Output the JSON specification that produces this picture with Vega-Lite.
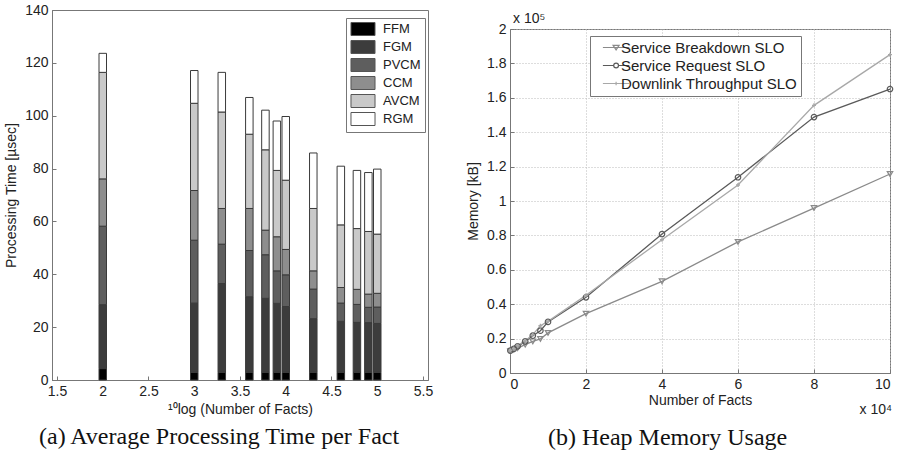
{
  "$schema": "https://vega.github.io/schema/vega-lite/v6.json",
  "background": "white",
  "padding": {"left": 4, "top": 2, "right": 6, "bottom": 0},
  "config": {
    "font": "Liberation Sans",
    "view": {"stroke": "#777", "strokeWidth": 1},
    "axis": {
      "labelFont": "Liberation Sans", "labelFontSize": 14, "labelColor": "#222",
      "titleFont": "Liberation Sans", "titleFontSize": 14, "titleFontWeight": "normal", "titleColor": "#222",
      "domainColor": "#777", "tickColor": "#777", "tickSize": -4, "labelPadding": 8, "grid": false, "labelOverlap": false
    },
    "title": {"font": "Liberation Serif", "fontSize": 24, "fontWeight": "normal", "color": "#111", "orient": "bottom", "anchor": "start", "frame": "group", "offset": 9}
  },
  "datasets": {
    "times": [
      {"logFacts": 2, "module": "FFM", "rank": 1, "time": 4.3},
      {"logFacts": 2, "module": "FGM", "rank": 2, "time": 24.2},
      {"logFacts": 2, "module": "PVCM", "rank": 3, "time": 29.7},
      {"logFacts": 2, "module": "CCM", "rank": 4, "time": 17.9},
      {"logFacts": 2, "module": "AVCM", "rank": 5, "time": 40.3},
      {"logFacts": 2, "module": "RGM", "rank": 6, "time": 7.2},
      {"logFacts": 3, "module": "FFM", "rank": 1, "time": 2.9},
      {"logFacts": 3, "module": "FGM", "rank": 2, "time": 26.2},
      {"logFacts": 3, "module": "PVCM", "rank": 3, "time": 23.8},
      {"logFacts": 3, "module": "CCM", "rank": 4, "time": 18.8},
      {"logFacts": 3, "module": "AVCM", "rank": 5, "time": 33.0},
      {"logFacts": 3, "module": "RGM", "rank": 6, "time": 12.4},
      {"logFacts": 3.301, "module": "FFM", "rank": 1, "time": 2.9},
      {"logFacts": 3.301, "module": "FGM", "rank": 2, "time": 33.6},
      {"logFacts": 3.301, "module": "PVCM", "rank": 3, "time": 14.9},
      {"logFacts": 3.301, "module": "CCM", "rank": 4, "time": 13.5},
      {"logFacts": 3.301, "module": "AVCM", "rank": 5, "time": 36.5},
      {"logFacts": 3.301, "module": "RGM", "rank": 6, "time": 15.0},
      {"logFacts": 3.602, "module": "FFM", "rank": 1, "time": 2.9},
      {"logFacts": 3.602, "module": "FGM", "rank": 2, "time": 28.6},
      {"logFacts": 3.602, "module": "PVCM", "rank": 3, "time": 17.5},
      {"logFacts": 3.602, "module": "CCM", "rank": 4, "time": 15.9},
      {"logFacts": 3.602, "module": "AVCM", "rank": 5, "time": 28.1},
      {"logFacts": 3.602, "module": "RGM", "rank": 6, "time": 13.9},
      {"logFacts": 3.778, "module": "FFM", "rank": 1, "time": 2.9},
      {"logFacts": 3.778, "module": "FGM", "rank": 2, "time": 28.0},
      {"logFacts": 3.778, "module": "PVCM", "rank": 3, "time": 16.5},
      {"logFacts": 3.778, "module": "CCM", "rank": 4, "time": 9.3},
      {"logFacts": 3.778, "module": "AVCM", "rank": 5, "time": 30.4},
      {"logFacts": 3.778, "module": "RGM", "rank": 6, "time": 15.0},
      {"logFacts": 3.903, "module": "FFM", "rank": 1, "time": 2.9},
      {"logFacts": 3.903, "module": "FGM", "rank": 2, "time": 26.1},
      {"logFacts": 3.903, "module": "PVCM", "rank": 3, "time": 12.3},
      {"logFacts": 3.903, "module": "CCM", "rank": 4, "time": 12.9},
      {"logFacts": 3.903, "module": "AVCM", "rank": 5, "time": 25.1},
      {"logFacts": 3.903, "module": "RGM", "rank": 6, "time": 18.7},
      {"logFacts": 4, "module": "FFM", "rank": 1, "time": 2.9},
      {"logFacts": 4, "module": "FGM", "rank": 2, "time": 24.9},
      {"logFacts": 4, "module": "PVCM", "rank": 3, "time": 12.0},
      {"logFacts": 4, "module": "CCM", "rank": 4, "time": 9.6},
      {"logFacts": 4, "module": "AVCM", "rank": 5, "time": 26.2},
      {"logFacts": 4, "module": "RGM", "rank": 6, "time": 24.1},
      {"logFacts": 4.301, "module": "FFM", "rank": 1, "time": 2.9},
      {"logFacts": 4.301, "module": "FGM", "rank": 2, "time": 20.3},
      {"logFacts": 4.301, "module": "PVCM", "rank": 3, "time": 11.2},
      {"logFacts": 4.301, "module": "CCM", "rank": 4, "time": 6.9},
      {"logFacts": 4.301, "module": "AVCM", "rank": 5, "time": 23.6},
      {"logFacts": 4.301, "module": "RGM", "rank": 6, "time": 21.0},
      {"logFacts": 4.602, "module": "FFM", "rank": 1, "time": 2.9},
      {"logFacts": 4.602, "module": "FGM", "rank": 2, "time": 19.3},
      {"logFacts": 4.602, "module": "PVCM", "rank": 3, "time": 6.9},
      {"logFacts": 4.602, "module": "CCM", "rank": 4, "time": 5.9},
      {"logFacts": 4.602, "module": "AVCM", "rank": 5, "time": 23.7},
      {"logFacts": 4.602, "module": "RGM", "rank": 6, "time": 22.2},
      {"logFacts": 4.778, "module": "FFM", "rank": 1, "time": 2.9},
      {"logFacts": 4.778, "module": "FGM", "rank": 2, "time": 18.9},
      {"logFacts": 4.778, "module": "PVCM", "rank": 3, "time": 6.8},
      {"logFacts": 4.778, "module": "CCM", "rank": 4, "time": 5.7},
      {"logFacts": 4.778, "module": "AVCM", "rank": 5, "time": 23.0},
      {"logFacts": 4.778, "module": "RGM", "rank": 6, "time": 22.0},
      {"logFacts": 4.903, "module": "FFM", "rank": 1, "time": 2.9},
      {"logFacts": 4.903, "module": "FGM", "rank": 2, "time": 18.8},
      {"logFacts": 4.903, "module": "PVCM", "rank": 3, "time": 5.8},
      {"logFacts": 4.903, "module": "CCM", "rank": 4, "time": 5.0},
      {"logFacts": 4.903, "module": "AVCM", "rank": 5, "time": 23.7},
      {"logFacts": 4.903, "module": "RGM", "rank": 6, "time": 22.3},
      {"logFacts": 5, "module": "FFM", "rank": 1, "time": 2.9},
      {"logFacts": 5, "module": "FGM", "rank": 2, "time": 18.5},
      {"logFacts": 5, "module": "PVCM", "rank": 3, "time": 6.2},
      {"logFacts": 5, "module": "CCM", "rank": 4, "time": 5.2},
      {"logFacts": 5, "module": "AVCM", "rank": 5, "time": 22.4},
      {"logFacts": 5, "module": "RGM", "rank": 6, "time": 24.6}
    ],
    "memory": [
      {"slo": "Service Breakdown SLO", "facts": 100, "memory": 12600},
      {"slo": "Service Breakdown SLO", "facts": 1000, "memory": 13600},
      {"slo": "Service Breakdown SLO", "facts": 2000, "memory": 14500},
      {"slo": "Service Breakdown SLO", "facts": 4000, "memory": 16500},
      {"slo": "Service Breakdown SLO", "facts": 6000, "memory": 18400},
      {"slo": "Service Breakdown SLO", "facts": 8000, "memory": 19800},
      {"slo": "Service Breakdown SLO", "facts": 10000, "memory": 23300},
      {"slo": "Service Breakdown SLO", "facts": 20000, "memory": 34500},
      {"slo": "Service Breakdown SLO", "facts": 40000, "memory": 53300},
      {"slo": "Service Breakdown SLO", "facts": 60000, "memory": 76200},
      {"slo": "Service Breakdown SLO", "facts": 80000, "memory": 95900},
      {"slo": "Service Breakdown SLO", "facts": 100000, "memory": 115700},
      {"slo": "Service Request SLO", "facts": 100, "memory": 13000},
      {"slo": "Service Request SLO", "facts": 1000, "memory": 14000},
      {"slo": "Service Request SLO", "facts": 2000, "memory": 15500},
      {"slo": "Service Request SLO", "facts": 4000, "memory": 18400},
      {"slo": "Service Request SLO", "facts": 6000, "memory": 21700},
      {"slo": "Service Request SLO", "facts": 8000, "memory": 24600},
      {"slo": "Service Request SLO", "facts": 10000, "memory": 29700},
      {"slo": "Service Request SLO", "facts": 20000, "memory": 44000},
      {"slo": "Service Request SLO", "facts": 40000, "memory": 80800},
      {"slo": "Service Request SLO", "facts": 60000, "memory": 113800},
      {"slo": "Service Request SLO", "facts": 80000, "memory": 148800},
      {"slo": "Service Request SLO", "facts": 100000, "memory": 165100},
      {"slo": "Downlink Throughput SLO", "facts": 100, "memory": 13200},
      {"slo": "Downlink Throughput SLO", "facts": 1000, "memory": 14100},
      {"slo": "Downlink Throughput SLO", "facts": 2000, "memory": 15900},
      {"slo": "Downlink Throughput SLO", "facts": 4000, "memory": 18800},
      {"slo": "Downlink Throughput SLO", "facts": 6000, "memory": 22300},
      {"slo": "Downlink Throughput SLO", "facts": 8000, "memory": 27500},
      {"slo": "Downlink Throughput SLO", "facts": 10000, "memory": 30000},
      {"slo": "Downlink Throughput SLO", "facts": 20000, "memory": 45200},
      {"slo": "Downlink Throughput SLO", "facts": 40000, "memory": 77500},
      {"slo": "Downlink Throughput SLO", "facts": 60000, "memory": 109300},
      {"slo": "Downlink Throughput SLO", "facts": 80000, "memory": 155600},
      {"slo": "Downlink Throughput SLO", "facts": 100000, "memory": 185100}
    ],
    "notes": [
      {"which": "y", "facts": 0, "memory": 200000, "label": "x 10⁵"},
      {"which": "x", "facts": 100000, "memory": 0, "label": "x 10⁴"}
    ]
  },
  "resolve": {"scale": {"color": "independent"}, "legend": {"color": "independent"}},
  "spacing": 32,
  "hconcat": [
    {
      "width": 376,
      "height": 370,
      "title": {"text": "(a) Average Processing Time per Fact", "dx": -13},
      "data": {"name": "times"},
      "mark": {"type": "bar", "size": 7.5, "stroke": "#3a3a3a", "strokeWidth": 1},
      "encoding": {
        "x": {"field": "logFacts", "type": "quantitative",
              "scale": {"domain": [1.5, 5.5], "nice": false, "zero": false},
              "axis": {"values": [1.5, 2, 2.5, 3, 3.5, 4, 4.5, 5, 5.5], "format": "~g", "title": "¹⁰log (Number of Facts)", "titlePadding": 4}},
        "y": {"field": "time", "type": "quantitative", "stack": "zero",
              "scale": {"domain": [0, 140], "nice": false},
              "axis": {"values": [0, 20, 40, 60, 80, 100, 120, 140], "title": "Processing Time [µsec]", "titlePadding": 6}},
        "color": {"field": "module", "type": "nominal",
                  "scale": {"domain": ["FFM", "FGM", "PVCM", "CCM", "AVCM", "RGM"],
                            "range": ["#000000", "#3c3c3c", "#5e5e5e", "#8e8e8e", "#c9c9c9", "#ffffff"]},
                  "legend": {"title": null, "orient": "none", "legendX": 294, "legendY": 8,
                             "symbolType": "M-1.85,-1L1.85,-1L1.85,1L-1.85,1Z", "symbolSize": 169,
                             "symbolStrokeColor": "#555", "symbolStrokeWidth": 1, "labelOffset": 13, "symbolOffset": 6,
                             "labelFontSize": 13, "labelColor": "#222", "rowPadding": 0,
                             "strokeColor": "#777", "fillColor": "white", "padding": 4}},
        "order": {"field": "rank", "type": "quantitative"}
      }
    },
    {
      "spacing": 0,
      "vconcat": [
        {
          "width": 380,
          "height": 1,
          "data": {"values": []},
          "mark": {"type": "point"},
          "view": {"stroke": null}
        },
        {
          "width": 380,
          "height": 344,
          "title": {"text": "(b) Heap Memory Usage", "dx": 38, "offset": 9},
          "encoding": {
            "x": {"field": "facts", "type": "quantitative",
                  "scale": {"domain": [0, 100000], "nice": false},
                  "axis": {"values": [0, 20000, 40000, 60000, 80000, 100000], "labelExpr": "format(datum.value/10000, '~g')",
                           "title": "Number of Facts", "titlePadding": 2, "grid": true, "gridDash": [1, 2], "gridColor": "#bbb"}},
            "y": {"field": "memory", "type": "quantitative",
                  "scale": {"domain": [0, 200000], "nice": false},
                  "axis": {"values": [0, 20000, 40000, 60000, 80000, 100000, 120000, 140000, 160000, 180000, 200000],
                           "labelExpr": "format(datum.value/100000, '.1~f')",
                           "title": "Memory [kB]", "titlePadding": 6, "grid": true, "gridDash": [1, 2], "gridColor": "#bbb"}},
            "color": {"field": "slo", "type": "nominal",
                      "scale": {"domain": ["Service Breakdown SLO", "Service Request SLO", "Downlink Throughput SLO"],
                                "range": ["#8a8a8a", "#5a5a5a", "#a8a8a8"]},
                      "legend": {"title": null, "orient": "none", "legendX": 80, "legendY": 26,
                                 "labelFontSize": 15, "labelColor": "#222", "rowPadding": 2, "labelLimit": 0,
                                 "symbolSize": 144, "symbolStrokeWidth": 1.2, "labelOffset": 4, "symbolOffset": 8,
                                 "strokeColor": "#777", "fillColor": "white", "padding": 4,
                                 "encode": {
                                   "symbols": {
                                     "update": {
                                       "shape": {"signal": "datum.value == 'Service Breakdown SLO' ? 'M-1.1,0L3.3,0M0.6,-0.35L1.6,-0.35L1.1,0.4Z' : datum.value == 'Service Request SLO' ? 'M-1.1,0L0.7,0M1.5,0L3.3,0M1.5,0A0.4,0.4 0 1,1 0.7,0A0.4,0.4 0 1,1 1.5,0' : 'M-1.1,0L3.3,0M1.1,-0.3L1.1,0.3'"},
                                       "fill": {"value": "transparent"}
                                     }
                                   }
                                 }
                      }
            }
          },
          "layer": [
            {
              "data": {"name": "memory"},
              "mark": {"type": "line", "strokeWidth": 1.3},
              "encoding": {}
            },
            {
              "data": {"name": "memory"},
              "transform": [{"filter": "datum.slo == 'Service Breakdown SLO'"}],
              "mark": {"type": "point", "shape": "triangle-down", "filled": false, "size": 30, "strokeWidth": 1.2, "opacity": 1},
              "encoding": {}
            },
            {
              "data": {"name": "memory"},
              "transform": [{"filter": "datum.slo == 'Service Request SLO'"}],
              "mark": {"type": "point", "shape": "circle", "filled": false, "size": 30, "strokeWidth": 1.2, "opacity": 1},
              "encoding": {}
            },
            {
              "data": {"name": "memory"},
              "transform": [{"filter": "datum.slo == 'Downlink Throughput SLO'"}],
              "mark": {"type": "point", "shape": "M-1,0L1,0M0,-1L0,1", "filled": false, "size": 16, "strokeWidth": 1.4, "opacity": 1},
              "encoding": {}
            },
            {
              "data": {"name": "notes"},
              "transform": [{"filter": "datum.which == 'y'"}],
              "mark": {"type": "text", "align": "left", "baseline": "bottom", "dx": 3, "dy": -3, "fontSize": 14},
              "encoding": {"text": {"field": "label"}, "color": {"value": "#222"}}
            },
            {
              "data": {"name": "notes"},
              "transform": [{"filter": "datum.which == 'x'"}],
              "mark": {"type": "text", "align": "right", "baseline": "top", "dx": 2, "dy": 30, "fontSize": 14},
              "encoding": {"text": {"field": "label"}, "color": {"value": "#222"}}
            }
          ]
        }
      ]
    }
  ]
}
